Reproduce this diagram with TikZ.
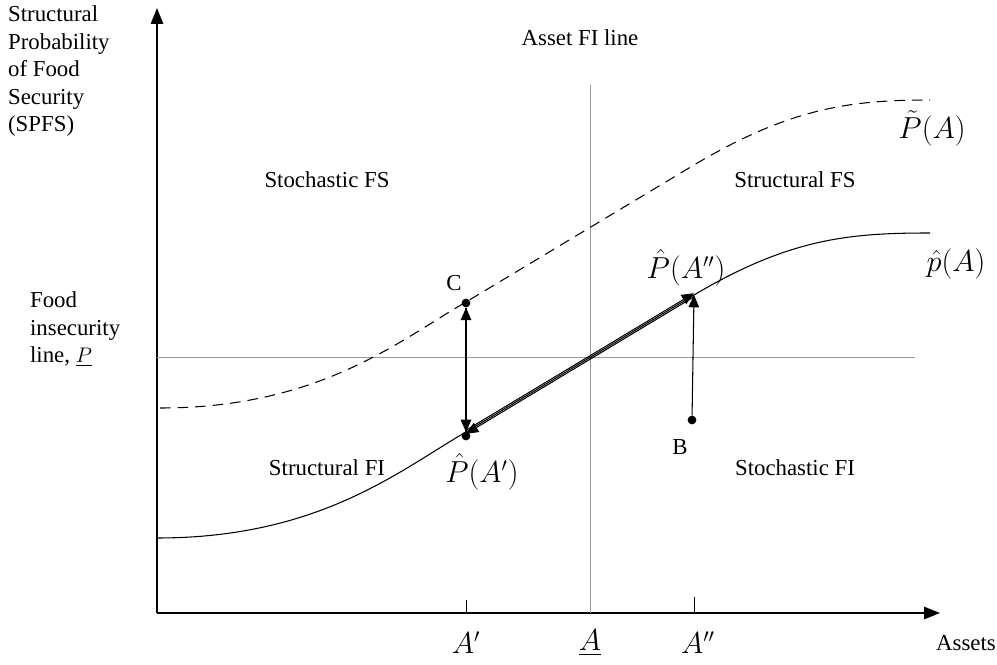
\documentclass[tikz,border=0pt]{standalone}
\usepackage{amsmath}
\usepackage{fontspec}
\setmainfont{Liberation Serif}
\usetikzlibrary{positioning,arrows.meta}

\begin{document}
\begin{tikzpicture}[
        x=0.02cm, y=-0.02cm,
        >={Triangle[length=7pt,width=6pt]},
        font=\fontsize{13}{15.6}\selectfont,
        axis/.style={->, thick, >={Triangle[length=9pt,width=7pt]}},
        guide/.style={draw=gray!80, thin},
        curve/.style={draw=black, semithick},
        pt/.style={circle, fill=black, inner sep=0pt, minimum size=5pt},
        lbl/.style={inner sep=1pt},
        mlbl/.style={inner sep=1pt, font=\fontsize{16}{18}\selectfont}
    ]
      \useasboundingbox (0,0) rectangle (997,665);

      % axes
      \coordinate (o) at (157,613);
      \coordinate (ytop) at (157,8);
      \coordinate (xend) at (940,613);
      \draw[axis] (o) -- (ytop);
      \draw[axis] (o) -- (xend);

      % food insecurity line and asset FI line
      \coordinate (pl) at (157,357);
      \coordinate (pr) at (915,357);
      \coordinate (at) at (590,85);
      \coordinate (ab) at (590,613);
      \draw[guide] (pl) -- (pr);
      \draw[guide] (at) -- (ab);

      % curves
      \coordinate (pa1) at (466,432);
      \coordinate (pa2) at (694,295);
      \draw[curve] (157,538) .. controls (320,538) and (400,470) .. (pa1)
          -- (pa2) .. controls (790,238) and (850,233) .. (930,233);
      \draw[curve, dashed, dash pattern=on 6pt off 4pt]
          (160,408) .. controls (320,408) and (400,340) .. (466,302)
          -- (694,165) .. controls (790,108) and (850,100) .. (930,100);

      % points
      \node[pt] (c) at (466,303) {};
      \node[pt] (b) at (692,420) {};
      \node[pt] (d1) at (466,436) {};

      \draw[->, semithick] (pa1) -- (c);
      \draw[->, semithick] (c) -- (pa1);
      \draw[->, semithick] (b) -- (pa2);
      \draw[->, semithick] ([yshift=1pt]pa1) -- ([yshift=1pt]pa2);
      \draw[->, semithick] ([yshift=-1pt]pa2) -- ([yshift=-1pt]pa1);

      % ticks
      \draw[thin] (466,600) -- (466,613);
      \draw[thin] (694,597) -- (694,613);

      % texts
      \node[lbl, anchor=north west, align=left] (ylab) at (6,4)
          {Structural\\Probability\\of Food\\Security\\(SPFS)};
      \node[lbl, anchor=north west, align=left] (filab) at (28,290)
          {Food\\insecurity\\line, $\underline{P}$};
      \node[lbl] (assetfi) at (580,38) {Asset FI line};
      \node[lbl] (sfs) at (327,180) {Stochastic FS};
      \node[lbl] (stfs) at (795,180) {Structural FS};
      \node[lbl] (stfi) at (327,468) {Structural FI};
      \node[lbl] (sfi) at (795,468) {Stochastic FI};
      \node[mlbl] (tp) at (932,128) {$\tilde{P}(A)$};
      \node[mlbl] (hp) at (956,264) {$\hat{p}(A)$};
      \node[mlbl] (hpa2) at (686,268) {$\hat{P}(A'')$};
      \node[mlbl] (hpa1) at (482,472) {$\hat{P}(A')$};
      \node[lbl] (clab) at (454,283) {C};
      \node[lbl] (blab) at (680,447) {B};
      \node[mlbl] (xa1) at (466,643) {$A'$};
      \node[mlbl] (xa) at (590,643) {$\underline{A}$};
      \node[mlbl] (xa2) at (698,643) {$A''$};
      \node[lbl] (xlab) at (966,643) {Assets};
    \end{tikzpicture}
\end{document}
